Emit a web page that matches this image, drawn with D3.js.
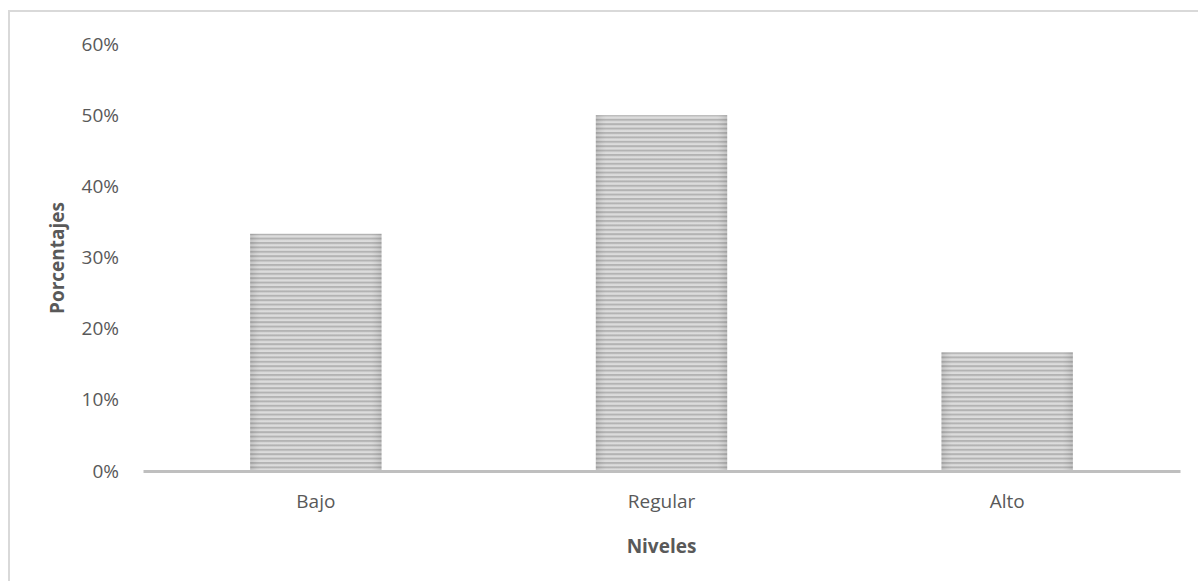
<!DOCTYPE html>
<html>
<head>
<meta charset="utf-8">
<script src="https://cdn.jsdelivr.net/npm/d3@7"></script>
<style>
  body { margin: 0; background: #fff; }
  text { font-family: "Open Sans", sans-serif; fill: #595959; }
</style>
</head>
<body>
<div id="chart"></div>
<script>
// Data
const categories = ["Bajo", "Regular", "Alto"];
const values = [0.3333, 0.50, 0.1667];
const yTicks = [0, 0.1, 0.2, 0.3, 0.4, 0.5, 0.6];

const width = 1198, height = 581;
const margin = { left: 143, right: 18, top: 44, bottom: 110 };

const svg = d3.select("#chart").append("svg")
    .attr("width", width)
    .attr("height", height);

// Frame
svg.append("path")
    .attr("d", `M9,${height} V11 H${width}`)
    .attr("fill", "none")
    .attr("stroke", "#d9d9d9")
    .attr("stroke-width", 2);

// Stripe pattern
const defs = svg.append("defs");
const pat = defs.append("pattern")
    .attr("id", "stripes")
    .attr("patternUnits", "userSpaceOnUse")
    .attr("width", 8)
    .attr("height", 4.4);
pat.append("rect").attr("width", 8).attr("height", 4.4).attr("fill", "#d6d6d6");
pat.append("rect").attr("y", 0).attr("width", 8).attr("height", 2).attr("fill", "#a6a6a6");

const grad = defs.append("linearGradient").attr("id", "edge");
grad.append("stop").attr("offset", "0%").attr("stop-color", "#888").attr("stop-opacity", 0.25);
grad.append("stop").attr("offset", "8%").attr("stop-color", "#fff").attr("stop-opacity", 0.15);
grad.append("stop").attr("offset", "92%").attr("stop-color", "#fff").attr("stop-opacity", 0.15);
grad.append("stop").attr("offset", "100%").attr("stop-color", "#888").attr("stop-opacity", 0.25);

// Scales
const x = d3.scaleBand()
    .domain(categories)
    .range([margin.left, width - margin.right])
    .paddingInner(0.62)
    .paddingOuter(0.31);

const y = d3.scaleLinear()
    .domain([0, 0.6])
    .range([height - margin.bottom, margin.top]);

// Bars
const bars = svg.append("g");
bars.selectAll(".bar")
    .data(values)
    .enter()
    .append("rect")
    .attr("class", "bar")
    .attr("x", (d, i) => x(categories[i]))
    .attr("y", d => y(d))
    .attr("width", x.bandwidth())
    .attr("height", d => y(0) - y(d))
    .attr("fill", "url(#stripes)");
bars.selectAll(".shade")
    .data(values)
    .enter()
    .append("rect")
    .attr("x", (d, i) => x(categories[i]))
    .attr("y", d => y(d))
    .attr("width", x.bandwidth())
    .attr("height", d => y(0) - y(d))
    .attr("fill", "url(#edge)");

// Y axis
const yAxis = d3.axisLeft(y)
    .tickValues(yTicks)
    .tickFormat(d3.format(".0%"))
    .tickSize(0)
    .tickPadding(24);

svg.append("g")
    .attr("transform", `translate(${margin.left},0)`)
    .call(yAxis)
    .call(g => g.select(".domain").remove())
    .selectAll("text")
    .style("font-size", "19px");

// X axis
svg.append("g")
    .attr("transform", `translate(0,${y(0)})`)
    .call(d3.axisBottom(x).tickSize(0).tickPadding(24))
    .call(g => g.select(".domain").attr("stroke", "#bfbfbf").attr("stroke-width", 3))
    .selectAll("text")
    .style("font-size", "19px");

// Axis titles
svg.append("text")
    .attr("x", (margin.left + width - margin.right) / 2)
    .attr("y", 553)
    .attr("text-anchor", "middle")
    .style("font-size", "19px")
    .attr("font-weight", "bold")
    .text("Niveles");

svg.append("text")
    .attr("transform", `translate(64,258) rotate(-90)`)
    .attr("text-anchor", "middle")
    .style("font-size", "19px")
    .attr("font-weight", "bold")
    .text("Porcentajes");
</script>
</body>
</html>
